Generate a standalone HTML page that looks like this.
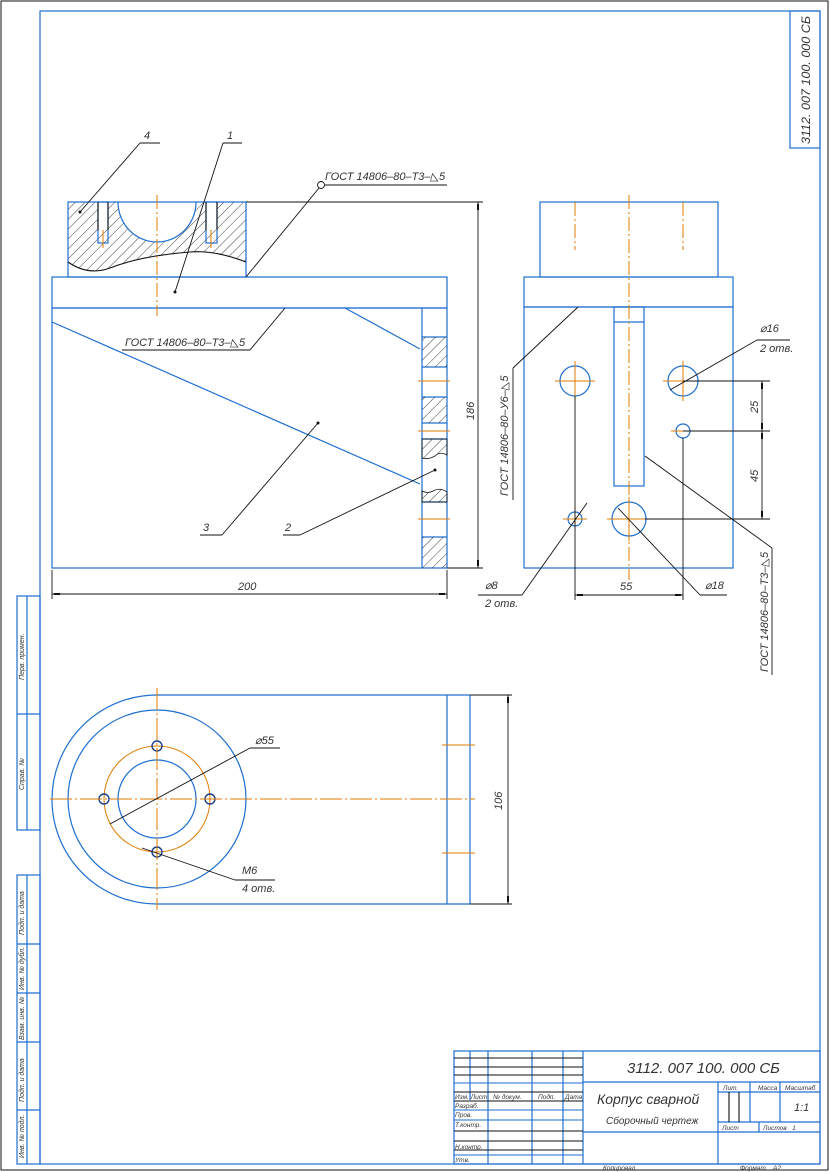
<!DOCTYPE html>
<html><head><meta charset="utf-8"><style>
html,body{margin:0;padding:0;background:#fff}
svg{display:block}
text{font-family:"Liberation Sans Narrow","Liberation Sans",sans-serif;font-style:italic;fill:#333}
</style></head><body>
<svg width="830" height="1172" viewBox="0 0 830 1172" xmlns="http://www.w3.org/2000/svg">
<defs>
<pattern id="h" width="7" height="7" patternUnits="userSpaceOnUse" patternTransform="rotate(45)">
<line x1="0" y1="0" x2="0" y2="7" stroke="#111" stroke-width="0.8"/>
</pattern>
</defs>
<rect x="1" y="1" width="827" height="1169" fill="none" stroke="#111" stroke-width="1"/>
<g fill="none" stroke="#1e6fd0" stroke-width="1.2">
<rect x="40" y="11" width="780" height="1153"/>
<rect x="790" y="11" width="30" height="137"/>
<rect x="17" y="596" width="23" height="234"/>
<line x1="27" y1="596" x2="27" y2="830"/>
<line x1="17" y1="714" x2="40" y2="714"/>
<rect x="17" y="875" width="23" height="289"/>
<line x1="27" y1="875" x2="27" y2="1164"/>
<line x1="17" y1="944" x2="40" y2="944"/>
<line x1="17" y1="993" x2="40" y2="993"/>
<line x1="17" y1="1042" x2="40" y2="1042"/>
<line x1="17" y1="1110" x2="40" y2="1110"/>
</g>
<g font-size="7">
<text transform="translate(24,680) rotate(-90)">Перв. примен.</text>
<text transform="translate(24,790) rotate(-90)">Справ. №</text>
<text transform="translate(24,935) rotate(-90)">Подп. и дата</text>
<text transform="translate(24,990) rotate(-90)">Инв. № дубл.</text>
<text transform="translate(24,1040) rotate(-90)">Взам. инв. №</text>
<text transform="translate(24,1102) rotate(-90)">Подп. и дата</text>
<text transform="translate(24,1158) rotate(-90)">Инв. № подл.</text>
</g>
<text transform="translate(810,144) rotate(-90)" font-size="12" textLength="128" lengthAdjust="spacingAndGlyphs">3112. 007 100. 000 СБ</text>

<g fill="none" stroke="#1e6fd0" stroke-width="1.2">
<rect x="454" y="1051" width="366" height="113"/>
<line x1="583" y1="1051" x2="583" y2="1164"/>
<line x1="470" y1="1051" x2="470" y2="1100"/>
<line x1="488" y1="1051" x2="488" y2="1164"/>
<line x1="532" y1="1051" x2="532" y2="1164"/>
<line x1="563" y1="1051" x2="563" y2="1164"/>
<line x1="583" y1="1082" x2="820" y2="1082"/>
<line x1="718" y1="1082" x2="718" y2="1164"/>
<line x1="718" y1="1092" x2="820" y2="1092"/>
<line x1="750" y1="1082" x2="750" y2="1122"/>
<line x1="780" y1="1082" x2="780" y2="1122"/>
<line x1="718" y1="1122" x2="820" y2="1122"/>
<line x1="583" y1="1132" x2="820" y2="1132"/>
<line x1="759" y1="1122" x2="759" y2="1132"/>
</g>
<g fill="none" stroke="#111" stroke-width="1.1">
<line x1="454" y1="1058" x2="583" y2="1058"/>
<line x1="454" y1="1067" x2="583" y2="1067"/>
<line x1="454" y1="1075" x2="583" y2="1075"/>
<line x1="454" y1="1092" x2="583" y2="1092"/>
<line x1="454" y1="1101" x2="583" y2="1101"/>
<line x1="454" y1="1131" x2="583" y2="1131"/>
<line x1="454" y1="1141" x2="583" y2="1141"/>
<line x1="454" y1="1150" x2="583" y2="1150"/>
<line x1="729" y1="1092" x2="729" y2="1122"/>
<line x1="739" y1="1092" x2="739" y2="1122"/>
</g>
<g stroke="#1e6fd0" stroke-width="1">
<line x1="454" y1="1083" x2="583" y2="1083"/>
<line x1="454" y1="1110" x2="583" y2="1110"/>
<line x1="454" y1="1120" x2="583" y2="1120"/>
<line x1="454" y1="1155" x2="583" y2="1155"/>
</g>
<g font-size="6.5">
<text x="455" y="1099">Изм. Лист</text><text x="493" y="1099">№ докум.</text><text x="538" y="1099">Подп.</text><text x="565" y="1099">Дата</text>
<text x="455" y="1108">Разраб.</text><text x="455" y="1117">Пров.</text><text x="455" y="1127">Т.контр.</text>
<text x="455" y="1149">Н.контр.</text><text x="455" y="1162">Утв.</text>
<text x="723" y="1090">Лит.</text><text x="758" y="1090">Масса</text><text x="785" y="1090">Масштаб</text>
<text x="722" y="1130">Лист</text><text x="763" y="1130">Листов&#160;&#160;&#160;1</text>
<text x="603" y="1170">Копировал</text><text x="740" y="1170">Формат&#160;&#160;&#160;&#160;A2</text>
</g>
<text x="627" y="1073" font-size="15">3112. 007 100. 000 СБ</text>
<text x="597" y="1104" font-size="14">Корпус сварной</text>
<text x="606" y="1124" font-size="10">Сборочный чертеж</text>
<text x="794" y="1111" font-size="11">1:1</text>

<path d="M68,202 H246 V262 Q215,250 190,252 Q140,256 110,268 Q88,276 68,262 Z M118,202 A39,40 0 0 0 196,202 Z" fill="url(#h)" fill-rule="evenodd"/>
<rect x="98" y="202" width="10" height="28" fill="#fff"/>
<rect x="206" y="202" width="11" height="28" fill="#fff"/>
<g fill="none" stroke="#1e6fd0" stroke-width="1.2">
<rect x="68" y="202" width="178" height="75"/>
<path d="M118,202 A39,40 0 0 0 196,202"/>
<rect x="98" y="202" width="10" height="41"/>
<rect x="206" y="202" width="11" height="41"/>
<rect x="52" y="277" width="395" height="31"/>
<rect x="52" y="308" width="395" height="260"/>
<line x1="422" y1="308" x2="422" y2="568"/>
<line x1="52" y1="322" x2="420" y2="484"/>
<line x1="345" y1="308" x2="420" y2="349"/>
<line x1="422" y1="337" x2="447" y2="337"/><line x1="422" y1="367" x2="447" y2="367"/>
<line x1="422" y1="397" x2="447" y2="397"/><line x1="422" y1="423" x2="447" y2="423"/>
<line x1="422" y1="439" x2="447" y2="439"/><line x1="422" y1="502" x2="447" y2="502"/>
<line x1="422" y1="537" x2="447" y2="537"/>
</g>
<g stroke="#111" stroke-width="1.1" fill="none">
<line x1="98" y1="202" x2="98" y2="230"/><line x1="108" y1="202" x2="108" y2="230"/>
<line x1="206" y1="202" x2="206" y2="230"/><line x1="217" y1="202" x2="217" y2="230"/>
<path d="M68,262 Q88,276 110,268 Q140,256 190,252 Q215,250 246,262"/>
</g>
<rect x="422" y="337" width="25" height="30" fill="url(#h)"/>
<rect x="422" y="397" width="25" height="26" fill="url(#h)"/>
<path d="M422,439 H447 V455 Q440,451 435,456 Q428,460 422,458 Z" fill="url(#h)" stroke="#111" stroke-width="0.8"/>
<path d="M422,502 H447 V492 Q440,487 433,491 Q428,494 422,491 Z" fill="url(#h)" stroke="#111" stroke-width="0.8"/>
<rect x="422" y="537" width="25" height="31" fill="url(#h)"/>
<g stroke="#e07b00" stroke-width="1" stroke-dasharray="14,3,2,3">
<line x1="157" y1="195" x2="157" y2="316"/>
</g>
<g stroke="#e07b00" stroke-width="1">
<line x1="103" y1="230" x2="103" y2="248"/><line x1="211" y1="230" x2="211" y2="248"/>
<line x1="418" y1="381" x2="450" y2="381"/><line x1="418" y1="431" x2="450" y2="431"/>
<line x1="418" y1="519" x2="450" y2="519"/>
</g>
<g stroke="#111" stroke-width="0.9" fill="none">
<line x1="246" y1="202" x2="483" y2="202"/>
<line x1="447" y1="568" x2="483" y2="568"/>
<line x1="478" y1="202" x2="478" y2="568"/>
<line x1="52" y1="570" x2="52" y2="599"/><line x1="447" y1="570" x2="447" y2="599"/>
<line x1="52" y1="594" x2="447" y2="594"/>
<line x1="140" y1="143" x2="160" y2="143"/><line x1="140" y1="143" x2="80" y2="212"/>
<line x1="223" y1="143" x2="242" y2="143"/><line x1="223" y1="143" x2="175" y2="292"/>
<circle cx="321" cy="185" r="3.5"/><line x1="325" y1="185" x2="447" y2="185"/>
<line x1="319" y1="188" x2="246" y2="277"/>
<line x1="122" y1="350" x2="250" y2="350"/><line x1="250" y1="350" x2="285" y2="308"/>
<line x1="200" y1="535" x2="222" y2="535"/><line x1="222" y1="535" x2="318" y2="423"/>
<line x1="283" y1="535" x2="300" y2="535"/><line x1="300" y1="535" x2="435" y2="470"/>
</g>
<g fill="#111">
<circle cx="80" cy="212" r="1.5"/><circle cx="175" cy="292" r="1.5"/><circle cx="318" cy="423" r="1.5"/><circle cx="435" cy="470" r="1.5"/>
<rect x="477" y="204" width="2" height="6"/><rect x="477" y="560" width="2" height="6"/>
<rect x="54" y="593" width="6" height="2"/><rect x="439" y="593" width="6" height="2"/>
</g>
<g font-size="11">
<text x="144" y="139">4</text><text x="227" y="139">1</text>
<text x="203" y="531">3</text><text x="285" y="531">2</text>
<text x="325" y="180">ГОСТ 14806–80–Т3–◺5</text>
<text x="125" y="346">ГОСТ 14806–80–Т3–◺5</text>
<text x="238" y="590">200</text>
<text transform="translate(474,420) rotate(-90)">186</text>
</g>

<g fill="none" stroke="#1e6fd0" stroke-width="1.2">
<rect x="540" y="202" width="178" height="75"/>
<rect x="524" y="277" width="209" height="30"/>
<rect x="524" y="307" width="209" height="261"/>
<rect x="614" y="307" width="30" height="179"/>
<line x1="614" y1="322" x2="644" y2="322"/>
<circle cx="575" cy="381" r="15"/><circle cx="683" cy="381" r="15"/>
<circle cx="683" cy="431" r="7"/>
<circle cx="629" cy="519" r="17"/><circle cx="575" cy="519" r="7"/>
</g>
<g stroke="#e07b00" stroke-width="1" stroke-dasharray="14,3,2,3">
<line x1="629" y1="195" x2="629" y2="580"/>
<line x1="575" y1="202" x2="575" y2="250"/><line x1="683" y1="202" x2="683" y2="250"/>
</g>
<g stroke="#e07b00" stroke-width="1">
<line x1="555" y1="381" x2="595" y2="381"/><line x1="575" y1="361" x2="575" y2="401"/>
<line x1="663" y1="381" x2="703" y2="381"/><line x1="683" y1="361" x2="683" y2="401"/>
<line x1="671" y1="431" x2="695" y2="431"/>
<line x1="607" y1="519" x2="651" y2="519"/><line x1="629" y1="497" x2="629" y2="541"/>
<line x1="563" y1="519" x2="587" y2="519"/><line x1="575" y1="507" x2="575" y2="531"/>
</g>
<g stroke="#111" stroke-width="0.9" fill="none">
<line x1="683" y1="381" x2="770" y2="381"/><line x1="683" y1="431" x2="770" y2="431"/>
<line x1="645" y1="519" x2="770" y2="519"/>
<line x1="762" y1="381" x2="762" y2="519"/>
<line x1="575" y1="396" x2="575" y2="600"/><line x1="683" y1="438" x2="683" y2="600"/>
<line x1="575" y1="595" x2="683" y2="595"/>
<line x1="670" y1="390" x2="757" y2="340"/><line x1="757" y1="340" x2="790" y2="340"/>
<line x1="587" y1="503" x2="522" y2="595"/><line x1="522" y1="595" x2="478" y2="595"/>
<line x1="618" y1="508" x2="700" y2="595"/><line x1="700" y1="595" x2="727" y2="595"/>
<line x1="578" y1="307" x2="513" y2="368"/><line x1="513" y1="368" x2="513" y2="500"/>
<line x1="645" y1="456" x2="772" y2="548"/><line x1="772" y1="548" x2="772" y2="675"/>
</g>
<g fill="#111">
<rect x="761" y="383" width="2" height="6"/><rect x="761" y="423" width="2" height="6"/>
<rect x="761" y="433" width="2" height="6"/><rect x="761" y="511" width="2" height="6"/>
<rect x="577" y="594" width="6" height="2"/><rect x="675" y="594" width="6" height="2"/>
</g>
<g font-size="11">
<text x="760" y="332">⌀16</text><text x="760" y="352">2 отв.</text>
<text x="485" y="589">⌀8</text><text x="485" y="607">2 отв.</text>
<text x="705" y="589">⌀18</text><text x="620" y="590">55</text>
<text transform="translate(758,413) rotate(-90)">25</text>
<text transform="translate(758,482) rotate(-90)">45</text>
<text transform="translate(508,496) rotate(-90)">ГОСТ 14806–80–У6–◺5</text>
<text transform="translate(768,672) rotate(-90)">ГОСТ 14806–80–Т3–◺5</text>
</g>

<g fill="none" stroke="#1e6fd0" stroke-width="1.2">
<path d="M157,695 A105,104.5 0 0 0 157,904"/>
<line x1="157" y1="695" x2="470" y2="695"/><line x1="157" y1="904" x2="470" y2="904"/>
<line x1="470" y1="695" x2="470" y2="904"/><line x1="447" y1="695" x2="447" y2="904"/>
<circle cx="157" cy="799" r="89"/>
<circle cx="157" cy="799" r="39"/>
</g>
<circle cx="157" cy="799" r="53" fill="none" stroke="#e07b00" stroke-width="1"/>
<g fill="none" stroke="#1a3f8a" stroke-width="1.4">
<circle cx="157" cy="746" r="5"/><circle cx="157" cy="852" r="5"/>
<circle cx="104" cy="799" r="5"/><circle cx="210" cy="799" r="5"/>
</g>
<g stroke="#e07b00" stroke-width="1" stroke-dasharray="22,3,2,3">
<line x1="50" y1="799" x2="475" y2="799"/><line x1="157" y1="688" x2="157" y2="910"/>
</g>
<g stroke="#e07b00" stroke-width="1">
<line x1="442" y1="745" x2="475" y2="745"/><line x1="442" y1="853" x2="475" y2="853"/>
</g>
<g stroke="#111" stroke-width="0.9" fill="none">
<line x1="470" y1="695" x2="512" y2="695"/><line x1="470" y1="904" x2="512" y2="904"/>
<line x1="508" y1="695" x2="508" y2="904"/>
<line x1="110" y1="824" x2="250" y2="748"/><line x1="250" y1="748" x2="280" y2="748"/>
<line x1="142" y1="848" x2="235" y2="880"/><line x1="235" y1="880" x2="275" y2="880"/>
</g>
<g fill="#111">
<rect x="507" y="697" width="2" height="6"/><rect x="507" y="896" width="2" height="6"/>
</g>
<g font-size="11">
<text x="255" y="744">⌀55</text>
<text x="242" y="874">M6</text><text x="242" y="892">4 отв.</text>
<text transform="translate(502,810) rotate(-90)">106</text>
</g>
</svg>
</body></html>
